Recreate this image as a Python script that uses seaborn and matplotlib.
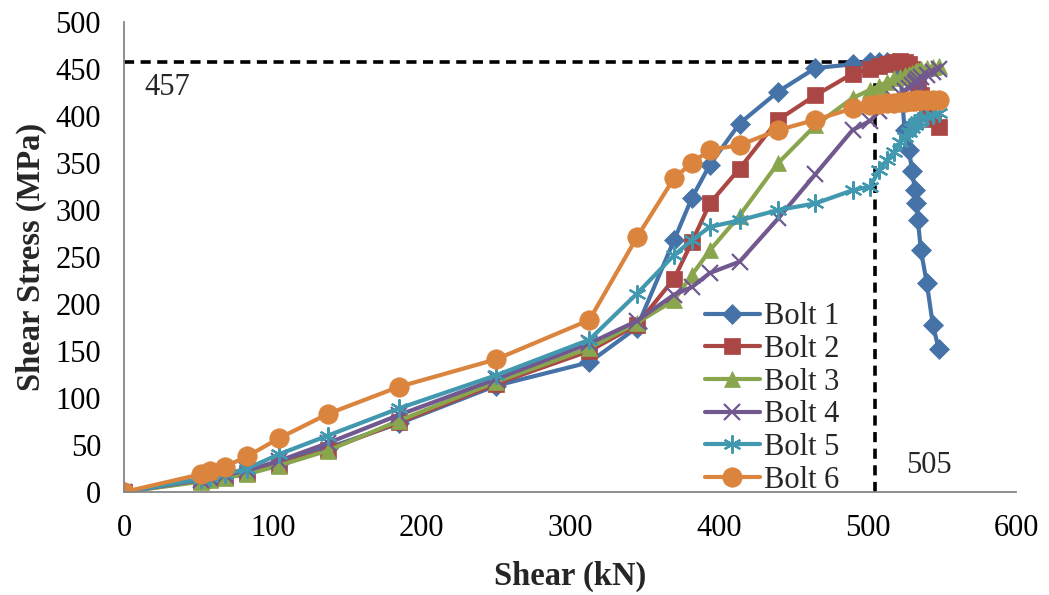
import matplotlib
matplotlib.use("Agg")
import matplotlib.pyplot as plt
import seaborn as sns
import pandas as pd

# Applied shear load steps (kN), shared by all bolts
shear_kn = [0, 52, 58, 68, 83, 104, 137, 185, 250, 313,
            345, 370, 382, 394, 414, 440, 465, 490,
            502, 508, 513, 518, 522, 525, 528, 530, 532, 533, 534, 536, 540, 544, 548]

# Shear stress in each bolt (MPa)
bolt1 = [0, 13, 15, 18, 22, 31, 47, 73, 113, 138,
         175, 268, 313, 348, 392, 426, 451, 455,
         457, 457, 457, 456, 450, 385, 364, 342, 321, 307, 289, 257, 222, 178, 152]
bolt2 = [0, 12, 14, 16, 20, 29, 45, 74, 115, 150,
         178, 227, 266, 307, 344, 396, 422, 445,
         450, 453, 455, 457, 458, 457, 455, 450, 445, 440, 432, 422, 408, 397, 388]
bolt3 = [0, 11, 13, 15, 19, 28, 44, 76, 117, 153,
         180, 204, 231, 257, 294, 350, 390, 419,
         428, 432, 436, 440, 442, 444, 445, 446, 447, 448, 449, 450, 451, 452, 453]
bolt4 = [0, 13, 15, 18, 23, 33, 52, 82, 120, 158,
         182, 210, 218, 233, 245, 291, 338, 385,
         395, 405, 412, 418, 423, 427, 430, 433, 435, 437, 439, 441, 444, 447, 450]
bolt5 = [0, 14, 16, 19, 25, 40, 60, 89, 124, 162,
         211, 252, 268, 282, 289, 300, 307, 321,
         325, 343, 353, 362, 372, 378, 383, 387, 390, 393, 395, 397, 399, 401, 403]
bolt6 = [0, 19, 22, 27, 38, 57, 83, 112, 141, 183,
         271, 334, 350, 364, 369, 385, 396, 408,
         412, 413, 414, 414, 415, 415, 416, 416, 416, 417, 417, 417, 417, 417, 417]

labels = ["Bolt 1", "Bolt 2", "Bolt 3", "Bolt 4", "Bolt 5", "Bolt 6"]
series = [bolt1, bolt2, bolt3, bolt4, bolt5, bolt6]

# Peak stress and the load at which it occurs
peak_stress = 457
peak_load = 505

colors = ["#4572A7", "#AA4643", "#89A54E", "#71588F", "#4198AF", "#DB843D"]
markers = ["D", "s", "^", "x", (6, 2, 0), "o"]
msizes = [10, 11, 12, 11, 13, 14]

sns.set_theme(style="white")
plt.rcParams["font.family"] = ["Liberation Serif", "DejaVu Serif"]

fig = plt.figure(figsize=(10.49, 5.95), dpi=100)
ax = fig.add_axes([0.1182, 0.1731, 0.8504, 0.7899])

frames = []
for lab, vals in zip(labels, series):
    frames.append(pd.DataFrame({"Shear": shear_kn, "Stress": vals, "Bolt": lab}))
df = pd.concat(frames, ignore_index=True)

for lab, col, mk, ms in zip(labels, colors, markers, msizes):
    sub = df[df["Bolt"] == lab]
    line_marker = mk in ("x",) or isinstance(mk, tuple)
    sns.lineplot(data=sub, x="Shear", y="Stress", ax=ax, sort=False, estimator=None,
                 color=col, linewidth=3.0, marker=mk, markersize=ms,
                 markeredgecolor=col, markerfacecolor=col,
                 markeredgewidth=1.6 if line_marker else 0.5,
                 label=lab)

# Dashed guides to the peak value
ax.plot([0, peak_load], [peak_stress, peak_stress], color="black", lw=2.6,
        ls=(0, (2.8, 1.8)), zorder=1)
ax.plot([peak_load, peak_load], [0, peak_stress], color="black", lw=2.6,
        ls=(0, (2.8, 1.8)), zorder=1)
ax.text(14, 430, str(peak_stress), fontsize=22, ha="left", va="center")
ax.text(526, 28, str(peak_load), fontsize=22, ha="left", va="center")

ax.set_xlim(0, 600)
ax.set_ylim(0, 500)
ax.set_xticks(range(0, 601, 100))
ax.set_yticks(range(0, 501, 50))
ax.tick_params(axis="both", labelsize=22, colors="black", direction="out",
               length=6.5, width=1.3, color="#868686")
ax.tick_params(axis="y", pad=10)
ax.tick_params(axis="x", pad=9)

for side in ("top", "right"):
    ax.spines[side].set_visible(False)
for side in ("left", "bottom"):
    ax.spines[side].set_color("#868686")
    ax.spines[side].set_linewidth(1.3)

ax.set_xlabel("Shear (kN)", fontsize=23.5, fontweight="bold", labelpad=13)
ax.set_ylabel("Shear Stress (MPa)", fontsize=23.5, fontweight="bold", labelpad=6)

leg = ax.legend(loc="lower left", bbox_to_anchor=(0.651, -0.006), frameon=False,
                fontsize=22, handlelength=1.8, handletextpad=0.15,
                labelspacing=0.12, borderaxespad=0, borderpad=0)

fig.savefig("out.png", dpi=100)
